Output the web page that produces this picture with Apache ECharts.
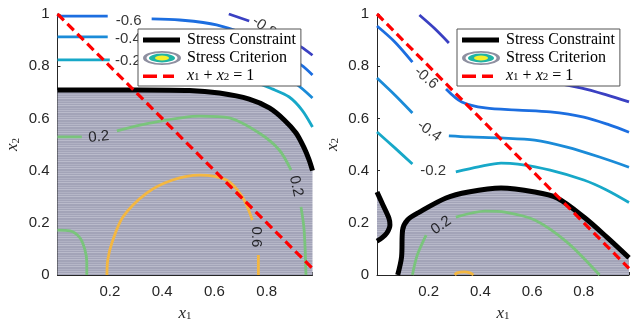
<!DOCTYPE html>
<html>
<head>
<meta charset="utf-8">
<script src="https://cdn.jsdelivr.net/npm/echarts@6/dist/echarts.min.js"></script>
<style>
  html, body { margin: 0; padding: 0; background: #fff; }
  #chart { width: 632px; height: 329px; }
</style>
</head>
<body>
<div id="chart"></div>
<script>
// ---- data ([x1, x2] pairs, one array per visible piece) ----
var xMax = 0.975;
var xTicks = [0.2, 0.4, 0.6, 0.8];

// left panel
var leftConstraint = [[0,0.709],[0.314,0.709],[0.505,0.707],[0.619,0.697],[0.733,0.674],[0.81,0.64],[0.867,0.594],[0.912,0.544],[0.943,0.487],[0.962,0.441],[0.975,0.40]];
var leftM08 = [[[0.655,1],[0.733,0.973]], [[0.867,0.908],[0.931,0.874],[0.975,0.842]]];
var leftM06 = [[[0,0.992],[0.192,0.992]], [[0.36,0.981],[0.467,0.977],[0.608,0.958],[0.771,0.9],[0.931,0.805],[0.975,0.766]]];
var leftM04 = [[[0,0.912],[0.192,0.912]], [[0.352,0.908],[0.543,0.893],[0.733,0.843],[0.912,0.732],[0.975,0.678]]];
var leftM02 = [[[0,0.824],[0.2,0.824]], [[0.352,0.816],[0.543,0.793],[0.733,0.747],[0.821,0.713],[0.886,0.682],[0.935,0.632],[0.975,0.567]]];
var leftP02 = [[[0,0.529],[0.093,0.529]],
               [[0.227,0.552],[0.352,0.582],[0.543,0.609],[0.657,0.602],[0.771,0.544],[0.848,0.479],[0.893,0.402]],
               [[0.931,0.261],[0.943,0.172],[0.95,0]],
               [[0,0.172],[0.048,0.169],[0.086,0.142],[0.105,0.096],[0.112,0.05],[0.112,0]]];
var leftP06 = [[[0.189,0],[0.192,0.057],[0.208,0.123],[0.25,0.222],[0.341,0.314],[0.44,0.364],[0.543,0.383],[0.646,0.364],[0.707,0.299],[0.745,0.211]],
               [[0.768,0.077],[0.768,0]]];
var leftLabels = [['-0.6',0.272,0.973,0],['-0.4',0.269,0.904,0],['-0.2',0.269,0.82,0],['-0.8',0.79,0.95,-35],
                  ['0.2',0.158,0.529,5],['0.2',0.912,0.341,-78],['0.6',0.76,0.146,-90]];

// right panel
var rightConstraint = [[0.08,0],[0.095,0.069],[0.099,0.172],[0.118,0.211],[0.164,0.241],[0.267,0.295],[0.354,0.318],[0.48,0.333],[0.61,0.318],[0.697,0.295],[0.8,0.222],[0.888,0.146],[0.975,0.066]];
var rightConstraintSmall = [[0,0.318],[0.023,0.268],[0.046,0.218],[0.05,0.192],[0.038,0.161],[0.019,0.142],[0,0.13]];
var rightM08 = [[[0.164,0.996],[0.221,0.946],[0.278,0.889]], [[0.354,0.824],[0.545,0.766],[0.792,0.716],[0.888,0.69],[0.975,0.663]]];
var rightM06 = [[[0,0.954],[0.069,0.893],[0.137,0.816]], [[0.267,0.713],[0.328,0.663],[0.419,0.64],[0.545,0.632],[0.67,0.625],[0.8,0.605],[0.899,0.575],[0.975,0.547]]];
var rightM04 = [[[0,0.755],[0.069,0.69],[0.137,0.621]], [[0.278,0.533],[0.354,0.529],[0.48,0.525],[0.61,0.517],[0.735,0.49],[0.861,0.452],[0.975,0.413]]];
var rightM02 = [[[0,0.548],[0.069,0.487],[0.137,0.425]], [[0.305,0.395],[0.392,0.414],[0.48,0.429],[0.545,0.425],[0.67,0.402],[0.8,0.364],[0.888,0.326],[0.975,0.278]]];
var rightP02 = [[[0.137,0],[0.156,0.077],[0.19,0.153]], [[0.305,0.222],[0.419,0.245],[0.495,0.241],[0.61,0.211],[0.735,0.126],[0.861,0]]];
var rightP06 = [[[0.301,0],[0.31,0.008],[0.337,0.012],[0.36,0.008],[0.373,0]]];
var rightLabels = [['-0.6',0.19,0.755,-40],['-0.4',0.202,0.552,-35],['-0.2',0.217,0.398,0],['0.2',0.248,0.19,35]];

var feasibleLine = [[0,1],[0.975,0.025]];
var legendNames = ['Stress Constraint','Stress Criterion','x1+x2=1'];

// ---- helpers ----
function stripes(){
    var c = document.createElement('canvas'); c.width = 8; c.height = 7;
    var g = c.getContext('2d');
    g.fillStyle = '#a3a4b8'; g.fillRect(0,0,8,7);
    g.fillStyle = '#babbcb'; g.fillRect(0,0,8,1);
    g.fillStyle = '#b0b1c3'; g.fillRect(0,3,8,1);
    g.fillStyle = '#b6b7c8'; g.fillRect(0,5,8,1);
    return c;
}
function icon(kind){
    var c = document.createElement('canvas'); c.width = 40; c.height = 14;
    var g = c.getContext('2d');
    if (kind === 0){ g.fillStyle = '#000'; g.fillRect(1,4.5,37,5); }
    if (kind === 1){
        var rings = [[19,7,'#8e8fa0'],[15.5,5.3,'#ffffff'],[13,4.4,'#1fb3a5'],[7,2.4,'#f4f02a']];
        rings.forEach(function(r){ g.beginPath(); g.ellipse(20,7,r[0],r[1],0,0,Math.PI*2); g.fillStyle = r[2]; g.fill(); });
    }
    if (kind === 2){ g.fillStyle = '#ff0000'; g.fillRect(1,5.5,14,3.5); g.fillRect(21,5.5,11,3.5); }
    return 'image://' + c.toDataURL();
}
var fillPattern = { image: stripes(), repeat: 'repeat' };

var series = [];
function addFill(poly, gi){
    series.push({
        type: 'custom', xAxisIndex: gi, yAxisIndex: gi, z: 1, silent: true,
        data: [[0,0]],
        renderItem: function(params, api){
            return { type: 'polygon', shape: { points: poly.map(function(p){ return api.coord(p); }) },
                     style: { fill: fillPattern, stroke: null } };
        }
    });
}
function addLevel(segs, color, gi){
    segs.forEach(function(seg){
        series.push({ name: 'Stress Criterion', type: 'line', xAxisIndex: gi, yAxisIndex: gi, data: seg,
            showSymbol: false, symbol: 'none', smooth: 0.3, z: 3,
            lineStyle: { color: color, width: 2.8 }, itemStyle: { color: color } });
    });
}
function addLabels(lbls, gi){
    series.push({ type: 'scatter', xAxisIndex: gi, yAxisIndex: gi, symbolSize: 0, z: 6, silent: true,
        data: lbls.map(function(l){ return { name: l[0], value: [l[1], l[2]], label: { rotate: l[3] } }; }),
        label: { show: true, position: 'inside', formatter: '{b}', color: '#000',
                 fontFamily: 'Liberation Sans', fontSize: 15 } });
}

var grids = [{ left: 57.5, top: 14, width: 255, height: 261 }, { left: 377, top: 14, width: 255, height: 261 }];
var colors = { m08: '#3a40c2', m06: '#1c6ee0', m04: '#1b8bd8', m02: '#17a8c8', p02: '#7ac47c', p06: '#f3b742' };

// left panel
addFill(leftConstraint.concat([[0.975,0],[0,0]]), 0);
addLevel(leftM08, colors.m08, 0); addLevel(leftM06, colors.m06, 0); addLevel(leftM04, colors.m04, 0);
addLevel(leftM02, colors.m02, 0); addLevel(leftP02, colors.p02, 0); addLevel(leftP06, colors.p06, 0);
// right panel
addFill(rightConstraint.concat([[0.975,0]]), 1);
addFill(rightConstraintSmall, 1);
addLevel(rightM08, colors.m08, 1); addLevel(rightM06, colors.m06, 1); addLevel(rightM04, colors.m04, 1);
addLevel(rightM02, colors.m02, 1); addLevel(rightP02, colors.p02, 1); addLevel(rightP06, colors.p06, 1);

[[leftConstraint], [rightConstraint, rightConstraintSmall]].forEach(function(list, gi){
    list.forEach(function(c){
        series.push({ name: 'Stress Constraint', type: 'line', xAxisIndex: gi, yAxisIndex: gi, data: c,
            symbol: 'none', smooth: 0.3, z: 4, lineStyle: { color: '#000', width: 5 }, itemStyle: { color: '#000' } });
    });
    series.push({ name: 'x1+x2=1', type: 'line', xAxisIndex: gi, yAxisIndex: gi, data: feasibleLine,
        symbol: 'none', z: 5, lineStyle: { color: '#ff0000', width: 3.2, type: [9, 5] }, itemStyle: { color: '#ff0000' } });
});
addLabels(leftLabels, 0);
addLabels(rightLabels, 1);

var mathRich = {
    i: { fontFamily: 'Liberation Serif', fontStyle: 'italic', fontSize: 17, color: '#262626' },
    s: { fontFamily: 'Liberation Serif', fontSize: 11, color: '#262626', verticalAlign: 'bottom', lineHeight: 6 }
};
var legRich = {
    i: { fontFamily: 'Liberation Serif', fontStyle: 'italic', fontSize: 16, color: '#000', lineHeight: 14 },
    s: { fontFamily: 'Liberation Serif', fontSize: 11, color: '#000', verticalAlign: 'bottom', lineHeight: 6 },
    n: { fontFamily: 'Liberation Serif', fontSize: 16, color: '#000', lineHeight: 14 }
};
var legendIcons = [icon(0), icon(1), icon(2)];
function makeLegend(left){
    return {
        left: left, top: 29, orient: 'vertical', z: 10, selectedMode: false,
        backgroundColor: '#fff', borderColor: '#555', borderWidth: 1, borderRadius: 0,
        padding: [3, 5, 2, 4], itemGap: 2, itemWidth: 40, itemHeight: 14, itemTextGap: 3,
        data: legendNames.map(function(n, k){ return { name: n, icon: legendIcons[k] }; }),
        formatter: function(n){ return n === 'x1+x2=1' ? '{i|x}{s|1}{n| + }{i|x}{s|2}{n| = 1}' : n; },
        textStyle: { fontFamily: 'Liberation Serif', fontSize: 16, color: '#000', lineHeight: 14, rich: legRich }
    };
}
function xAx(gi){
    return { type: 'value', gridIndex: gi, min: 0, max: xMax, interval: 0.2,
        name: '{i|x}{s|1}', nameLocation: 'middle', nameGap: 30, nameTextStyle: { rich: mathRich },
        axisLine: { lineStyle: { color: '#262626', width: 1 } },
        axisTick: { inside: true, length: 3, lineStyle: { color: '#262626' } },
        axisLabel: { margin: 9, color: '#262626', fontFamily: 'Liberation Sans', fontSize: 15,
            formatter: function(v){ return xTicks.indexOf(Math.round(v*10)/10) >= 0 ? String(Math.round(v*10)/10) : ''; } },
        splitLine: { show: false } };
}
function yAx(gi){
    return { type: 'value', gridIndex: gi, min: 0, max: 1, interval: 0.2,
        name: '{i|x}{s|2}', nameLocation: 'middle', nameGap: 36, nameTextStyle: { rich: mathRich },
        axisLine: { show: true, lineStyle: { color: '#262626', width: 1 } },
        axisTick: { show: true, inside: true, length: 3, lineStyle: { color: '#262626' } },
        axisLabel: { margin: 8, color: '#262626', fontFamily: 'Liberation Sans', fontSize: 15,
            formatter: function(v){ return String(Math.round(v*10)/10); } },
        splitLine: { show: false } };
}

var chart = echarts.init(document.getElementById('chart'));
chart.setOption({
    animation: false,
    backgroundColor: '#fff',
    grid: grids,
    xAxis: [xAx(0), xAx(1)],
    yAxis: [yAx(0), yAx(1)],
    legend: [makeLegend(138), makeLegend(457)],
    series: series
});
</script>
</body>
</html>
